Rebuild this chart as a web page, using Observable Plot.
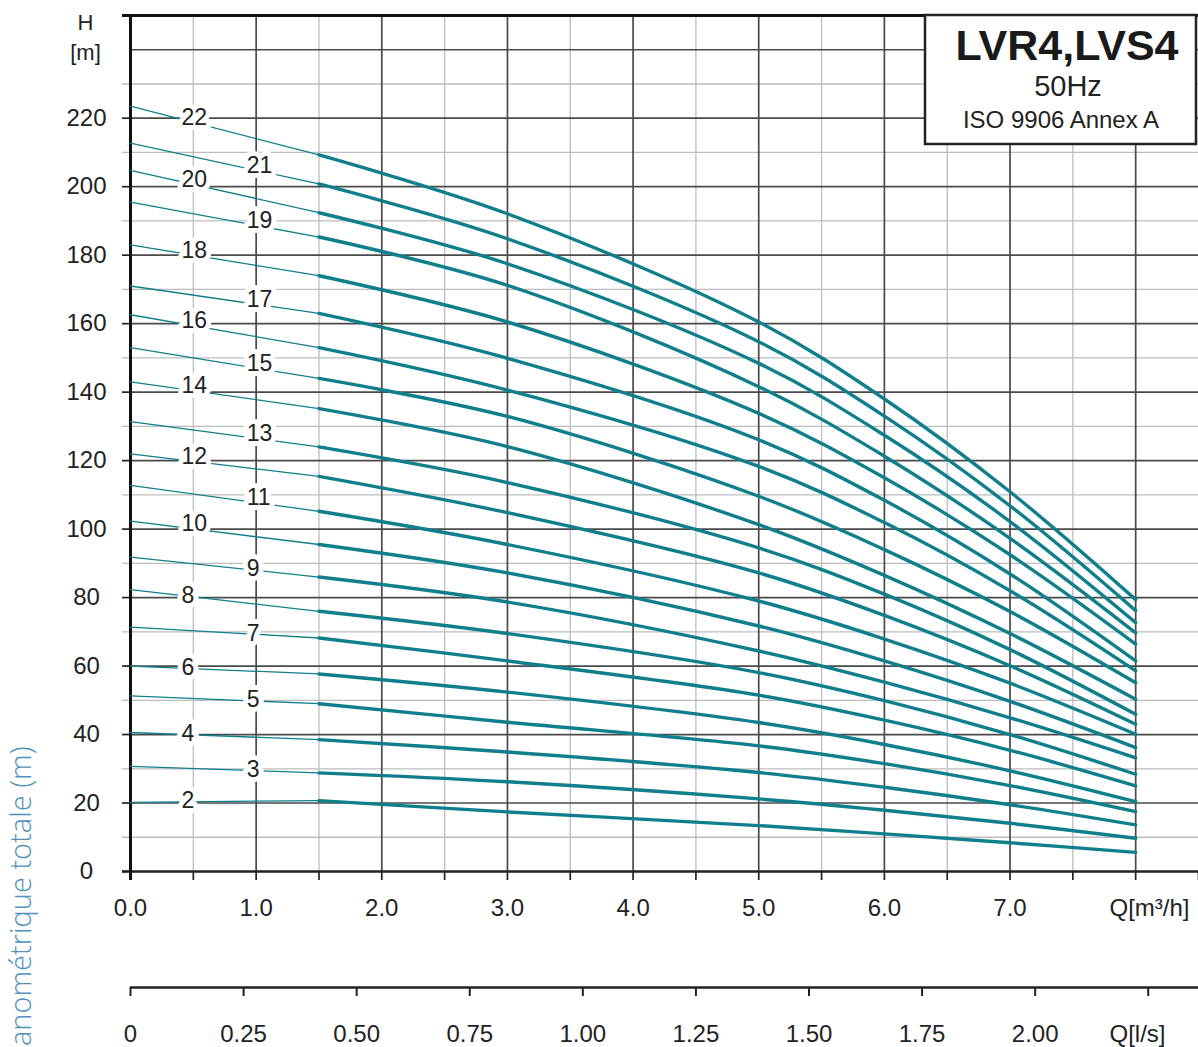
<!DOCTYPE html>
<html>
<head>
<meta charset="utf-8">
<script src="https://cdn.jsdelivr.net/npm/d3@7"></script>
<script src="https://cdn.jsdelivr.net/npm/@observablehq/plot@0.6"></script>
<style>
  html, body { margin: 0; padding: 0; background: #fff; }
  #wrap { position: relative; width: 1198px; height: 1047px; overflow: hidden; }
  #ov { position: absolute; left: 0; top: 0; pointer-events: none; }
</style>
</head>
<body>
<div id="wrap"></div>
<script>
// ---- data ----
const stages = [2, 3, 4, 5, 6, 7, 8, 9, 10, 11, 12, 13, 14, 15, 16, 17, 18, 19, 20, 21, 22];
// head H [m] at flow Q [m³/h]
const hQ0   = [20.2, 30.7, 40.6, 51.3, 60.0, 71.4, 82.3, 91.8, 102.3, 112.8, 122.0, 131.4, 143.0, 153.0, 162.6, 171.0, 183.0, 195.5, 204.8, 212.7, 223.5];
const hQ1_5 = [20.7, 28.8, 38.5, 49.0, 57.7, 68.2, 76.0, 86.0, 95.5, 105.2, 115.4, 124.0, 135.2, 144.0, 153.0, 163.0, 174.0, 185.3, 192.4, 200.8, 209.3];
const hQ3   = [17.4, 26.2, 34.9, 43.6, 52.4, 61.5, 69.5, 78.7, 87.2, 95.5, 104.8, 113.6, 124.1, 132.9, 140.6, 149.9, 160.5, 171.2, 177.5, 184.8, 192.1];
const hQ5   = [13.4, 21.2, 28.9, 36.7, 43.5, 51.5, 58.1, 64.4, 71.7, 79.0, 87.2, 94.5, 101.3, 109.6, 118.3, 126.1, 133.8, 141.6, 148.4, 154.7, 160.5];
const hQ6   = [11.0, 17.9, 24.6, 31.5, 37.1, 44.2, 49.9, 55.3, 61.5, 67.9, 74.8, 81.0, 86.5, 94.0, 101.9, 108.4, 115.0, 121.3, 127.4, 133.0, 138.0];
const hQ7   = [8.4, 14.1, 19.5, 25.1, 29.4, 35.4, 40.0, 44.9, 49.7, 55.0, 60.1, 64.8, 69.5, 75.9, 82.0, 86.9, 92.5, 97.3, 102.2, 106.8, 110.9];
const hQ8   = [5.6, 9.7, 13.6, 17.5, 20.4, 25.0, 28.4, 33.2, 36.2, 40.1, 43.0, 45.9, 50.3, 55.1, 58.6, 61.5, 66.4, 69.7, 72.7, 76.2, 79.4];
const qThin = [0, 1.5];
const qThick = [1.5, 3, 5, 6, 7, 8];

// axis ticks
const xTicks = [0, 0.5, 1, 1.5, 2, 2.5, 3, 3.5, 4, 4.5, 5, 5.5, 6, 6.5, 7, 7.5, 8, 8.5];
const xLabels = ["0.0", "", "1.0", "", "2.0", "", "3.0", "", "4.0", "", "5.0", "", "6.0", "", "7.0", "", "", ""];
const xMajorGrid = [1, 2, 3, 4, 5, 6, 7, 8];
const xMinorGrid = [0.5, 1.5, 2.5, 3.5, 4.5, 5.5, 6.5, 7.5];
const yTicks = [0, 20, 40, 60, 80, 100, 120, 140, 160, 180, 200, 220];
const yMajorGrid = [20, 40, 60, 80, 100, 120, 140, 160, 180, 200, 220, 240];
const yMinorGrid = [10, 30, 50, 70, 90, 110, 130, 150, 170, 190, 210, 230];
const lsTicks = [0, 0.25, 0.5, 0.75, 1.0, 1.25, 1.5, 1.75, 2.0, 2.25];
const lsLabels = ["0", "0.25", "0.50", "0.75", "1.00", "1.25", "1.50", "1.75", "2.00", ""];
const M3H_PER_LS = 3.6;

const titleText = "LVR4,LVS4";
const freqText = "50Hz";
const normText = "ISO 9906 Annex A";
const sideText = "anométrique totale (m)";
const qUnitM3 = "Q[m³/h]";
const qUnitLs = "Q[l/s]";

// ---- build tables ----
const thickCols = [hQ1_5, hQ3, hQ5, hQ6, hQ7, hQ8];
const thin = stages.flatMap((n, i) => [{n, Q: qThin[0], H: hQ0[i]}, {n, Q: qThin[1], H: hQ1_5[i]}]);
const thick = stages.flatMap((n, i) => qThick.map((q, j) => ({n, Q: q, H: thickCols[j][i]})));
const labels = stages.map((n, i) => {
  const q = n % 2 === 0 ? 0.405 : 0.925;
  const qc = q + (n >= 10 ? 0.1 : 0.05);
  return {n, Q: q, H: hQ0[i] + (hQ1_5[i] - hQ0[i]) * qc / 1.5};
});
const labelsHigh = labels.filter(d => d.n >= 10);
const labelsLow = labels.filter(d => d.n < 10);
const xLabelMap = new Map(xTicks.map((t, i) => [t, xLabels[i]]));
const lsPos = lsTicks.map(v => v * M3H_PER_LS);
const lsLabelMap = new Map(lsPos.map((p, i) => [p, lsLabels[i]]));

const teal = "#0f7f8c";
const dark = "#4a4a4a";
const light = "#bdbdbd";
const labelStyle = {x: "Q", y: "H", text: d => String(d.n), textAnchor: "start", fill: "#222", stroke: "white", strokeWidth: 10, fontSize: 23};

const chart = Plot.plot({
  width: 1198,
  height: 1047,
  marginLeft: 130,
  marginRight: 0,
  marginTop: 15,
  marginBottom: 176,
  x: {domain: [0, 8.5], label: null},
  y: {domain: [0, 250], label: null},
  style: {fontFamily: '"Liberation Sans", Arial, sans-serif', fontSize: "24px", color: "#222", background: "white", overflow: "visible"},
  marks: [
    Plot.gridX(xMinorGrid, {stroke: light, strokeOpacity: 1, strokeWidth: 1.3}),
    Plot.gridY(yMinorGrid, {stroke: light, strokeOpacity: 1, strokeWidth: 1.3, insetLeft: -8}),
    Plot.gridX(xMajorGrid, {stroke: dark, strokeOpacity: 1, strokeWidth: 1.7}),
    Plot.gridY(yMajorGrid, {stroke: dark, strokeOpacity: 1, strokeWidth: 1.7}),
    Plot.axisY(yTicks, {tickSize: 8, tickPadding: 36, textAnchor: "middle", tickFormat: d => String(d), stroke: "#222", strokeWidth: 1.7, fontSize: 24, label: null}),
    Plot.axisX(xTicks, {tickSize: 9, tickPadding: 18, tickFormat: d => xLabelMap.get(d), stroke: "#222", strokeWidth: 1.7, fontSize: 24, label: null}),
    Plot.axisX(lsPos, {tickSize: 9, tickPadding: 28, dy: 116, tickFormat: d => lsLabelMap.get(d), stroke: "#222", strokeWidth: 2, fontSize: 24, label: null}),
    Plot.ruleY([0], {dy: 116, stroke: "#222", strokeWidth: 2.5}),
    Plot.ruleY([0], {stroke: "#222", strokeWidth: 2.5, insetLeft: -8}),
    Plot.ruleY([250], {stroke: "#111", strokeWidth: 3, insetLeft: -8}),
    Plot.ruleX([0], {stroke: "#111", strokeWidth: 3, insetBottom: -9}),
    Plot.line(thin, {x: "Q", y: "H", z: "n", stroke: teal, strokeWidth: 1.3}),
    Plot.line(thick, {x: "Q", y: "H", z: "n", stroke: teal, strokeWidth: 3.4, curve: "catmull-rom"}),
    Plot.text(labelsHigh, {...labelStyle, dy: -5}),
    Plot.text(labelsLow, {...labelStyle, dy: -1}),
    Plot.text(["H"], {frameAnchor: "top-left", textAnchor: "middle", lineAnchor: "middle", dx: -45, dy: 7, fontSize: 22}),
    Plot.text(["[m]"], {frameAnchor: "top-left", textAnchor: "middle", lineAnchor: "middle", dx: -45, dy: 37, fontSize: 22}),
    Plot.text([qUnitM3], {frameAnchor: "bottom-right", textAnchor: "start", lineAnchor: "top", dx: -89, dy: 27, fontSize: 24}),
    Plot.text([qUnitLs], {frameAnchor: "bottom-right", textAnchor: "start", lineAnchor: "top", dx: -89, dy: 153, fontSize: 24})
  ]
});

const wrap = document.getElementById("wrap");
wrap.appendChild(chart);

// overlay: title box and side caption
const ns = "http://www.w3.org/2000/svg";
const ov = document.createElementNS(ns, "svg");
ov.setAttribute("id", "ov");
ov.setAttribute("width", 1198);
ov.setAttribute("height", 1047);
function el(tag, attrs, txt) {
  const e = document.createElementNS(ns, tag);
  for (const k in attrs) e.setAttribute(k, attrs[k]);
  if (txt) e.textContent = txt;
  ov.appendChild(e);
  return e;
}
el("rect", {x: 925, y: 15, width: 271, height: 129, fill: "white", stroke: "#222", "stroke-width": 2.5});
const ff = '"Liberation Sans", Arial, sans-serif';
el("text", {x: 1067, y: 60, "text-anchor": "middle", "font-family": ff, "font-weight": "bold", "font-size": 43, fill: "#1a1a1a"}, titleText);
el("text", {x: 1068, y: 96, "text-anchor": "middle", "font-family": ff, "font-size": 29, fill: "#222"}, freqText);
el("text", {x: 1061, y: 128, "text-anchor": "middle", "font-family": ff, "font-size": 24, fill: "#222"}, normText);
el("text", {transform: "translate(31,1046) rotate(-90)", "font-family": '"Open Sans", sans-serif', "font-weight": 300, "font-size": 29, fill: "#5190bb"}, sideText);
wrap.appendChild(ov);
</script>
</body>
</html>
